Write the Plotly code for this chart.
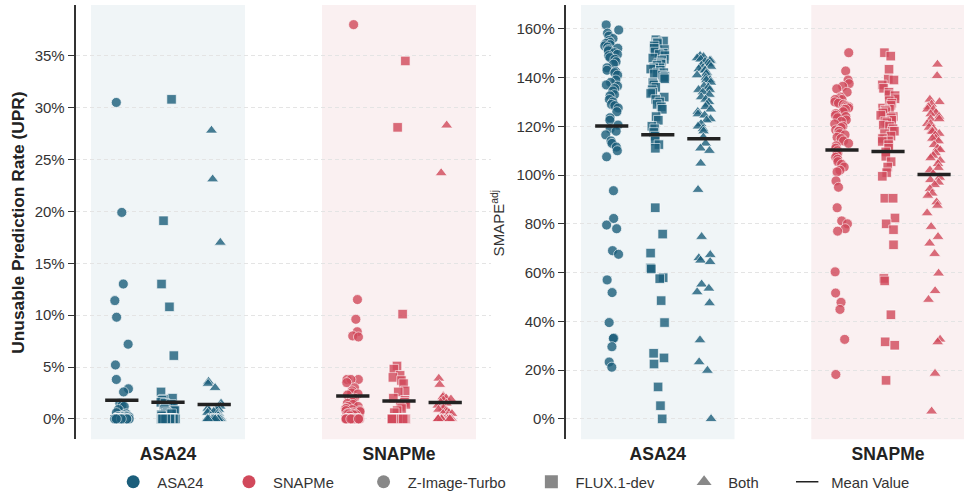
import numpy as np
import plotly.graph_objects as go

# ---------------- data ----------------
datasets = ["ASA24", "SNAPMe"]
models = ["Z-Image-Turbo", "FLUX.1-dev", "Both"]

# Unusable Prediction Rate (%), one value per item
upr_asa24_zimage = [30.5, 19.9, 13.0, 11.4, 9.8, 7.2, 5.2, 3.8, 2.9, 2.6, 1.5, 1.3, 1.2, 0.9, 0.6,
                    0.5, 0.4, 0.3, 0.3, 0.2, 0.2, 0.2, 0.2, 0.2, 0.2, 0.2, 0.2, 0.2, 0.2] + [0.0] * 35
upr_asa24_flux = [30.8, 19.1, 13.0, 10.8, 6.1, 2.6, 2.0, 1.9, 1.8, 1.6, 1.5, 1.4, 1.2, 1.1, 1.0,
                  1.0, 0.9, 0.8, 0.8, 0.7, 0.6, 0.5, 0.5, 0.4, 0.3] + [0.0] * 39
upr_asa24_both = [27.8, 23.1, 17.0, 3.6, 3.4, 3.0, 1.5, 1.2, 1.0, 1.0, 0.9, 0.8, 0.8, 0.7, 0.6,
                  0.5, 0.5, 0.3, 0.3, 0.3] + [0.0] * 44
upr_snapme_zimage = [38.0, 11.5, 9.6, 8.4, 8.0, 7.9, 3.8, 3.8, 3.8, 3.5, 3.0, 2.7, 2.5, 2.4, 2.3,
                     2.0, 1.9, 1.8, 1.6, 1.5, 1.4, 1.2, 1.2, 1.0, 1.0, 0.9, 0.8, 0.8, 0.7, 0.6,
                     0.5, 0.5, 0.5, 0.4, 0.4, 0.3] + [0.0] * 24
upr_snapme_flux = [34.5, 28.1, 10.1, 5.1, 4.8, 4.2, 4.0, 3.7, 3.4, 2.7, 2.6, 2.0, 1.8, 1.6, 1.4,
                   1.2, 1.0, 0.8, 0.6] + [0.0] * 47
upr_snapme_both = [28.3, 23.7, 3.9, 3.3, 2.2, 2.1, 2.0, 1.9, 1.8, 1.6, 1.5, 1.3, 1.2, 1.0, 1.0,
                   0.9, 0.8, 0.7, 0.6, 0.5, 0.5, 0.3] + [0.0] * 29

# SMAPE adj (%), one value per item
smape_asa24_zimage = [161.6, 159.5, 158.2, 157.0, 156.0, 155.2, 154.5, 154.0, 153.5, 153.0, 152.5,
                      152.0, 151.5, 151.0, 150.2, 149.5, 149.0, 148.2, 147.5, 146.5, 145.5, 144.0,
                      143.0, 142.5, 142.0, 141.0, 139.0, 138.0, 137.0, 136.5, 135.5, 134.5, 133.0,
                      132.5, 131.0, 130.0, 129.0, 128.5, 127.5, 126.0, 123.5, 122.5, 120.5, 119.0,
                      118.0, 116.5, 114.0, 113.0, 111.5, 110.0, 107.5,
                      93.6, 82.2, 79.5, 78.0, 69.0, 67.5, 57.0, 51.8, 39.5, 33.2, 33.0, 29.6, 23.3, 21.2]
smape_asa24_flux = [155.5, 155.0, 154.5, 154.0, 153.0, 152.0, 151.5, 150.5, 150.0, 149.5, 149.0,
                    148.0, 147.5, 147.0, 146.0, 146.0, 145.5, 145.0, 144.0, 144.0, 143.5, 143.0,
                    142.0, 142.0, 141.5, 141.0, 140.5, 140.0, 139.5, 138.0, 137.5, 137.0, 136.0,
                    135.0, 134.0, 133.5, 132.0, 131.0, 130.0, 129.0, 128.0, 127.0, 124.0, 122.5,
                    120.0, 119.0, 117.5, 116.0, 114.0, 112.5, 111.0,
                    86.6, 75.8, 68.0, 61.9, 61.5, 57.9, 57.5, 48.5, 39.5, 26.9, 25.0, 22.5, 13.1, 5.4, 0.0]
smape_asa24_both = [149.0, 148.5, 148.0, 147.5, 147.0, 147.0, 146.5, 146.0, 145.5, 145.0, 144.5,
                    144.0, 143.5, 143.0, 143.0, 142.0, 141.5, 141.0, 140.0, 139.0, 139.0, 138.0,
                    136.5, 136.0, 135.0, 135.0, 134.0, 133.0, 132.0, 131.0, 130.0, 129.0, 128.0,
                    127.0, 126.0, 125.0, 124.5, 123.0, 122.5, 121.0, 120.0, 119.0, 118.0, 115.5,
                    113.0, 111.0, 110.0, 104.8, 94.0,
                    74.7, 67.3, 66.0, 65.0, 64.4, 55.2, 53.5, 52.0, 47.5, 32.3, 23.3, 19.8, 0.0]
smape_snapme_zimage = [150.2, 142.7, 139.0, 137.5, 136.4, 135.4, 134.0, 132.0, 131.3, 131.0, 131.0,
                       130.0, 129.5, 129.0, 128.5, 128.0, 128.0, 127.5, 127.0, 127.0, 126.0, 125.2,
                       124.5, 124.0, 123.5, 122.6, 122.0, 121.0, 120.0, 119.5, 118.5, 118.0, 118.0,
                       117.0, 116.5, 115.5, 115.0, 114.0, 113.0, 112.0, 111.0, 110.0, 109.0, 108.5,
                       107.3, 106.5, 105.5, 104.4, 103.3, 102.0, 101.3, 97.6, 95.0,
                       86.6, 81.2, 80.0, 78.0, 77.0, 60.3, 51.6, 47.8, 44.9, 32.6, 18.2]
smape_snapme_flux = [150.2, 148.8, 143.4, 139.4, 139.0, 137.0, 135.6, 134.0, 133.0, 132.6, 131.3,
                     130.5, 129.5, 128.6, 127.5, 127.0, 126.6, 126.0, 125.5, 124.5, 124.0, 123.5,
                     122.5, 122.0, 121.5, 120.5, 120.0, 119.0, 118.0, 118.0, 117.0, 116.0, 115.0,
                     114.0, 113.8, 112.5, 111.0, 109.5, 107.7, 105.5, 103.3, 101.0, 99.5,
                     90.5, 90.5, 82.4, 80.0, 77.6, 71.4, 57.6, 56.6, 42.7, 31.6, 30.2, 15.8]
smape_snapme_both = [145.4, 140.7, 131.0, 130.0, 129.0, 128.0, 127.0, 126.9, 125.5, 125.0, 124.0,
                     123.0, 123.0, 121.0, 121.0, 119.5, 119.0, 118.0, 117.8, 117.0, 116.4, 115.0,
                     115.0, 113.9, 112.4, 111.0, 110.3, 109.0, 108.0, 107.0, 106.0, 104.6, 103.0,
                     102.0, 100.5, 99.0, 98.0, 97.0, 96.0, 94.3, 92.5, 91.6, 88.9, 87.5, 84.4,
                     78.8, 74.7, 72.0, 67.7, 59.7, 52.5, 48.9, 32.6, 31.5, 18.6, 3.1]

upr = {
    ("ASA24", "Z-Image-Turbo"): upr_asa24_zimage,
    ("ASA24", "FLUX.1-dev"): upr_asa24_flux,
    ("ASA24", "Both"): upr_asa24_both,
    ("SNAPMe", "Z-Image-Turbo"): upr_snapme_zimage,
    ("SNAPMe", "FLUX.1-dev"): upr_snapme_flux,
    ("SNAPMe", "Both"): upr_snapme_both,
}
smape = {
    ("ASA24", "Z-Image-Turbo"): smape_asa24_zimage,
    ("ASA24", "FLUX.1-dev"): smape_asa24_flux,
    ("ASA24", "Both"): smape_asa24_both,
    ("SNAPMe", "Z-Image-Turbo"): smape_snapme_zimage,
    ("SNAPMe", "FLUX.1-dev"): smape_snapme_flux,
    ("SNAPMe", "Both"): smape_snapme_both,
}

upr_ticks = [0, 5, 10, 15, 20, 25, 30, 35]
smape_ticks = [0, 20, 40, 60, 80, 100, 120, 140, 160]

# ---------------- styling ----------------
colors = {"ASA24": "#1b5e7b", "SNAPMe": "#d1495b"}
bands = {"ASA24": "rgb(240,245,247)", "SNAPMe": "rgb(250,240,241)"}
symbols = {"Z-Image-Turbo": "circle", "FLUX.1-dev": "square", "Both": "triangle-up"}
msize = {"Z-Image-Turbo": 10, "FLUX.1-dev": 9.5, "Both": 10.5}
offsets = {"Z-Image-Turbo": -0.2, "FLUX.1-dev": 0.0, "Both": 0.2}
FONT = "Liberation Sans, Arial, Helvetica, sans-serif"
JIT = 0.032
HALF = 0.072

rng = np.random.default_rng(11)
fig = go.Figure()

for panel, data, xa, ya in [(1, upr, "x", "y"), (2, smape, "x2", "y2")]:
    for di, ds in enumerate(datasets):
        for m in models:
            vals = np.array(data[(ds, m)], dtype=float)
            xs = di + offsets[m] + rng.uniform(-JIT, JIT, len(vals))
            fig.add_trace(go.Scatter(
                x=xs, y=vals, mode="markers", xaxis=xa, yaxis=ya, showlegend=False,
                hoverinfo="skip",
                marker=dict(symbol=symbols[m], size=msize[m], color=colors[ds], opacity=0.8,
                            line=dict(color="white", width=0.7)),
            ))
    for di, ds in enumerate(datasets):
        for m in models:
            mu = float(np.mean(data[(ds, m)]))
            c = di + offsets[m]
            fig.add_trace(go.Scatter(
                x=[c - HALF, c + HALF], y=[mu, mu], mode="lines", xaxis=xa, yaxis=ya,
                showlegend=False, hoverinfo="skip",
                line=dict(color="#222222", width=3.5),
            ))

# legend entries (name, colour, symbol, trailing padding)
NBSP = "\u00a0"
legend_items = [
    ("ASA24", colors["ASA24"], "circle", NBSP * 5),
    ("SNAPMe", colors["SNAPMe"], "circle", NBSP * 6),
    ("Z-Image-Turbo", "#888888", "circle", NBSP * 5),
    ("FLUX.1-dev", "#888888", "square", NBSP * 6),
    ("Both", "#888888", "triangle-up", NBSP * 5 + "\u2009"),
]
for name, col, sym, pad in legend_items:
    fig.add_trace(go.Scatter(x=[None], y=[None], mode="markers", name=NBSP + name + pad,
                             marker=dict(symbol=sym, size=13, color=col)))
fig.add_trace(go.Scatter(x=[None], y=[None], mode="markers", name=NBSP + "Mean Value",
                         marker=dict(symbol="line-ew", size=18, color="#222222",
                                     line=dict(color="#222222", width=1.5))))

# background bands
shapes = []
for xa, ydom in [("x", "y domain"), ("x2", "y2 domain")]:
    for di, ds in enumerate(datasets):
        shapes.append(dict(type="rect", xref=xa, yref=ydom, x0=di - 1 / 3, x1=di + 1 / 3,
                           y0=0, y1=1, fillcolor=bands[ds], line=dict(width=0), layer="below"))

ydom = [1 - 446.5 / 499, 1 - 5 / 499]
xaxis_common = dict(tickmode="array", tickvals=[0, 1],
                    ticktext=["<b>%s</b>" % d for d in datasets],
                    showgrid=False, zeroline=False, showline=False, ticks="",
                    ticklabelstandoff=2,
                    tickfont=dict(size=17.5, color="#222222", family=FONT))
yaxis_common = dict(showgrid=True, gridcolor="#e4e4e4", griddash="4px,3px", gridwidth=1,
                    zeroline=False, showline=True, linecolor="#333333", linewidth=1.8,
                    ticks="outside", ticklen=6, tickwidth=1.2, tickcolor="#333333",
                    tickmode="array",
                    tickfont=dict(size=15, color="#333333", family=FONT))

fig.update_layout(
    width=964, height=499,
    margin=dict(l=0, r=0, t=0, b=0),
    paper_bgcolor="white", plot_bgcolor="rgba(0,0,0,0)",
    font=dict(family=FONT, color="#333333"),
    shapes=shapes,
    xaxis=dict(domain=[75.6 / 964, 491.4 / 964], range=[-0.4, 1.4], **xaxis_common),
    xaxis2=dict(domain=[565.7 / 964, 1.0], range=[-0.4, 1.33], anchor="y2", **xaxis_common),
    yaxis=dict(domain=ydom, range=[-1.97, 39.9], tickvals=upr_ticks,
               ticktext=["%d%%" % t for t in upr_ticks], anchor="x", **yaxis_common),
    yaxis2=dict(domain=ydom, range=[-8.4, 169.8], tickvals=smape_ticks,
                ticktext=["%d%%" % t for t in smape_ticks], anchor="x2", **yaxis_common),
    legend=dict(orientation="h", x=113.2 / 964, y=1 - 490 / 499, xanchor="left", yanchor="middle",
                font=dict(size=14.8, color="#333333", family=FONT), itemsizing="trace",
                bgcolor="rgba(0,0,0,0)"),
    annotations=[
        dict(text="<b>Unusable Prediction Rate (UPR)</b>", xref="paper", yref="paper",
             x=18.3 / 964, y=1 - 226 / 499, xanchor="center", yanchor="middle",
             textangle=-90, showarrow=False,
             font=dict(size=17.3, color="#222222", family=FONT)),
        dict(text="SMAPE<sup>adj</sup>", xref="paper", yref="paper",
             x=497 / 964, y=1 - 226 / 499, xanchor="center", yanchor="middle",
             textangle=-90, showarrow=False,
             font=dict(size=15, color="#333333", family=FONT)),
    ],
)

fig.write_html("out.html", config={"displayModeBar": False},
               post_script="document.body.style.margin='0';")
